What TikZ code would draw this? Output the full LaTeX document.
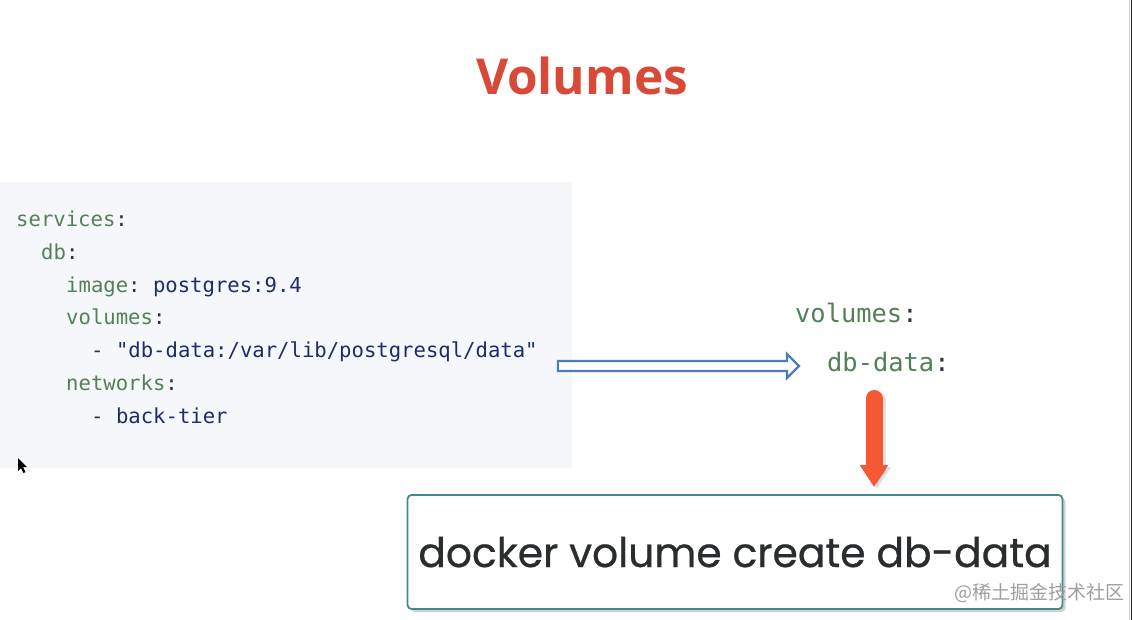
\documentclass[tikz,border=0pt]{standalone}
\usepackage{fontspec}
\usetikzlibrary{arrows.meta,shadows,calc}
\newfontfamily\codefont{DejaVu Sans Mono}
\newfontfamily\titlefont{Open Sans}
\newfontfamily\cmdfont{Poppins}[FakeBold=0.6]
\newfontfamily\cjk{Noto Sans CJK SC}
\definecolor{keygreen}{RGB}{84,128,88}
\definecolor{valnavy}{RGB}{30,44,108}
\definecolor{colondark}{RGB}{50,50,55}
\definecolor{codebg}{RGB}{245,247,250}
\definecolor{titlered}{RGB}{216,73,56}
\definecolor{arrowblue}{RGB}{74,126,187}
\definecolor{arroworange}{RGB}{245,88,50}
\definecolor{boxteal}{RGB}{64,140,140}
\definecolor{cmdtext}{RGB}{42,45,48}
\newcommand{\K}[1]{\textcolor{keygreen}{#1}}
\newcommand{\V}[1]{\textcolor{valnavy}{#1}}
\newcommand{\C}{\textcolor{colondark}{:}}
\newcommand{\D}{\textcolor{colondark}{-}}
\frenchspacing
\tikzset{
  codeline/.style={anchor=base west, inner sep=0pt, font=\codefont\fontsize{20.6}{24}\selectfont},
  rightcode/.style={anchor=base west, inner sep=0pt, font=\codefont\fontsize{25.4}{30}\selectfont},
  hollowarrow/.style={draw=arrowblue, line width=2.2pt, fill=white, line join=miter},
  orangearrow/.style={draw=arroworange, line width=17pt, line cap=round, -{Triangle[width=27pt,length=22pt]}},
  cmdbox/.style={draw=boxteal, line width=1.8pt, fill=white, rounded corners=4pt,
    minimum width=655pt, minimum height=114pt, inner sep=0pt,
    drop shadow={opacity=0.35, shadow xshift=3pt, shadow yshift=-3pt}}
}
\begin{document}
\begin{tikzpicture}[x=1pt,y=-1pt]
\useasboundingbox (0,0) rectangle (1133,620);
\fill[white] (0,0) rectangle (1133,620);
% right edge lines
\draw[gray!35, line width=1pt] (1129.5,0) -- (1129.5,620);
\draw[black!85, line width=1.5pt] (1131.5,0) -- (1131.5,620);
% code panel
\fill[codebg] (0,182) rectangle (572,468);
% title
\node[anchor=base, inner sep=0pt, text=titlered, font=\titlefont\bfseries\fontsize{49.5}{56}\selectfont] (title) at (582,95) {Volumes};
% code lines
\node[codeline] (l1) at (16,227) {\K{services}\C};
\node[codeline] (l2) at (41,260) {\K{db}\C};
\node[codeline] (l3) at (66,293) {\K{image}\C{} \V{postgres:9.4}};
\node[codeline] (l4) at (66,325) {\K{volumes}\C};
\node[codeline] (l5) at (91,358) {\D{} \V{"db-data:/var/lib/postgresql/data"}};
\node[codeline] (l6) at (66,391) {\K{networks}\C};
\node[codeline] (l7) at (91,424) {\D{} \V{back-tier}};
% right side
\node[rightcode] (rvol) at (795,323) {\K{volumes}\C};
\node[rightcode] (rdb) at (827,372) {\K{db-data}\C};
% command box
\node[cmdbox] (cmd) at (735,552) {};
\node[anchor=base, inner sep=0pt, text=cmdtext, font=\cmdfont\fontsize{40.8}{48}\selectfont] (cmdtxt) at (735,567) {docker volume create db-data};
% blue hollow arrow from code line to db-data
\coordinate (ba) at ($(l5.east)+(20,0)$);
\coordinate (bb) at ($(rdb.west)+(-28,0)$);
\path[hollowarrow] ($(ba |- 0,366)+(0,-5)$) -- ($(bb |- 0,366)+(-12,-5)$) -- ($(bb |- 0,366)+(-12,-12)$) -- (bb |- 0,366) -- ($(bb |- 0,366)+(-12,12)$) -- ($(bb |- 0,366)+(-12,5)$) -- ($(ba |- 0,366)+(0,5)$) -- cycle;
% orange arrow from db-data to command box
\coordinate (oa) at (874,398.5);
\coordinate (ob) at (874,487);
\draw[orangearrow, draw=black, opacity=0.12, transform canvas={xshift=3pt,yshift=-2pt}] (oa) -- (ob);
\draw[orangearrow] (oa) -- (ob);
% mouse cursor
\fill[black] (18,458) -- (18,471) -- (21,468) -- (23.5,473) -- (25.5,472) -- (23,467) -- (27,467) -- cycle;
% watermark
\node[anchor=base west, inner sep=0pt, text=gray!75, font=\cjk\fontsize{19}{22}\selectfont] (wm) at (954,599) {@稀土掘金技术社区};
\end{tikzpicture}
\end{document}
